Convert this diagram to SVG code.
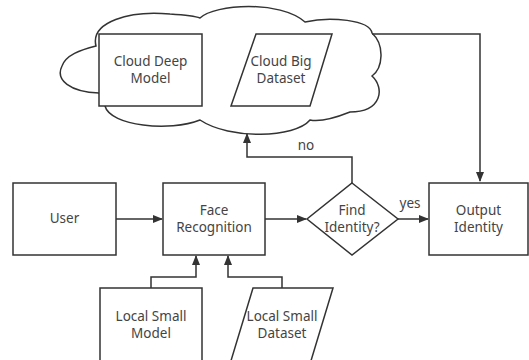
<svg xmlns="http://www.w3.org/2000/svg" width="529" height="360" viewBox="0 0 529 360">
<style>
.s{fill:#fff;stroke:#333;stroke-width:1.5}
.c{fill:none;stroke:#333;stroke-width:1.5}
text{font-family:"Noto Sans","Open Sans","DejaVu Sans",sans-serif;font-size:13.5px;fill:#444;text-anchor:middle}
</style>
<defs>
<marker id="a" markerWidth="10" markerHeight="8" refX="9" refY="4" orient="auto" markerUnits="userSpaceOnUse">
<path d="M0,0 L10,4 L0,8 Z" fill="#333"/>
</marker>
</defs>
<rect width="529" height="360" fill="#fff"/>
<g id="cloud">
<path class="s" d="M99 93 C70 92 55 80 62 66 C66 55 80 50 96 46 C90 22 130 10 170 14 C185 15 195 16 200 18 C215 4 280 0 305 22 C330 16 370 20 372 33 C385 45 383 68 372 76 C385 88 382 112 350 112 C335 118 320 122 310 120 C295 138 230 140 200 120 C170 132 110 126 105 106 Z"/>
</g>
<g id="cloudDeepModel">
<rect class="s" x="99" y="34" width="103" height="72"/>
<text x="150.5" y="66">Cloud Deep</text>
<text x="150.5" y="83">Model</text>
</g>
<g id="cloudBigDataset">
<path class="s" d="M256 34 L332 34 L310 106 L231 106 Z"/>
<text x="281" y="66">Cloud Big</text>
<text x="281" y="83">Dataset</text>
</g>
<g id="user">
<rect class="s" x="13" y="183" width="103" height="72"/>
<text x="64.5" y="223">User</text>
</g>
<g id="faceRecognition">
<rect class="s" x="163" y="183" width="102" height="72"/>
<text x="214" y="215">Face</text>
<text x="214" y="232">Recognition</text>
</g>
<g id="findIdentity">
<path class="s" d="M352 183 L398 219 L352 255 L307 219 Z"/>
<text x="352" y="215">Find</text>
<text x="352" y="232">Identity?</text>
</g>
<g id="outputIdentity">
<rect class="s" x="429" y="183" width="99" height="72"/>
<text x="478.5" y="215">Output</text>
<text x="478.5" y="232">Identity</text>
</g>
<g id="localSmallModel">
<rect class="s" x="100" y="288" width="102" height="80"/>
<text x="151" y="321">Local Small</text>
<text x="151" y="338">Model</text>
</g>
<g id="localSmallDataset">
<path class="s" d="M253 288 L333 288 L310 364 L230 364 Z"/>
<text x="282" y="321">Local Small</text>
<text x="282" y="338">Dataset</text>
</g>
<g id="connectors">
<path class="c" d="M372 34 L480 34 L480 181" marker-end="url(#a)"/>
<path class="c" d="M116 219 L162 219" marker-end="url(#a)"/>
<path class="c" d="M265 219 L306 219" marker-end="url(#a)"/>
<path class="c" d="M398 219 L428 219" marker-end="url(#a)"/>
<path class="c" d="M352 183 L352 157 L247 157 L247 134" marker-end="url(#a)"/>
<path class="c" d="M151 288 L151 277 L196 277 L196 256" marker-end="url(#a)"/>
<path class="c" d="M282 288 L282 277 L228 277 L228 256" marker-end="url(#a)"/>
<text x="306" y="150">no</text>
<text x="410" y="208">yes</text>
</g>
</svg>
